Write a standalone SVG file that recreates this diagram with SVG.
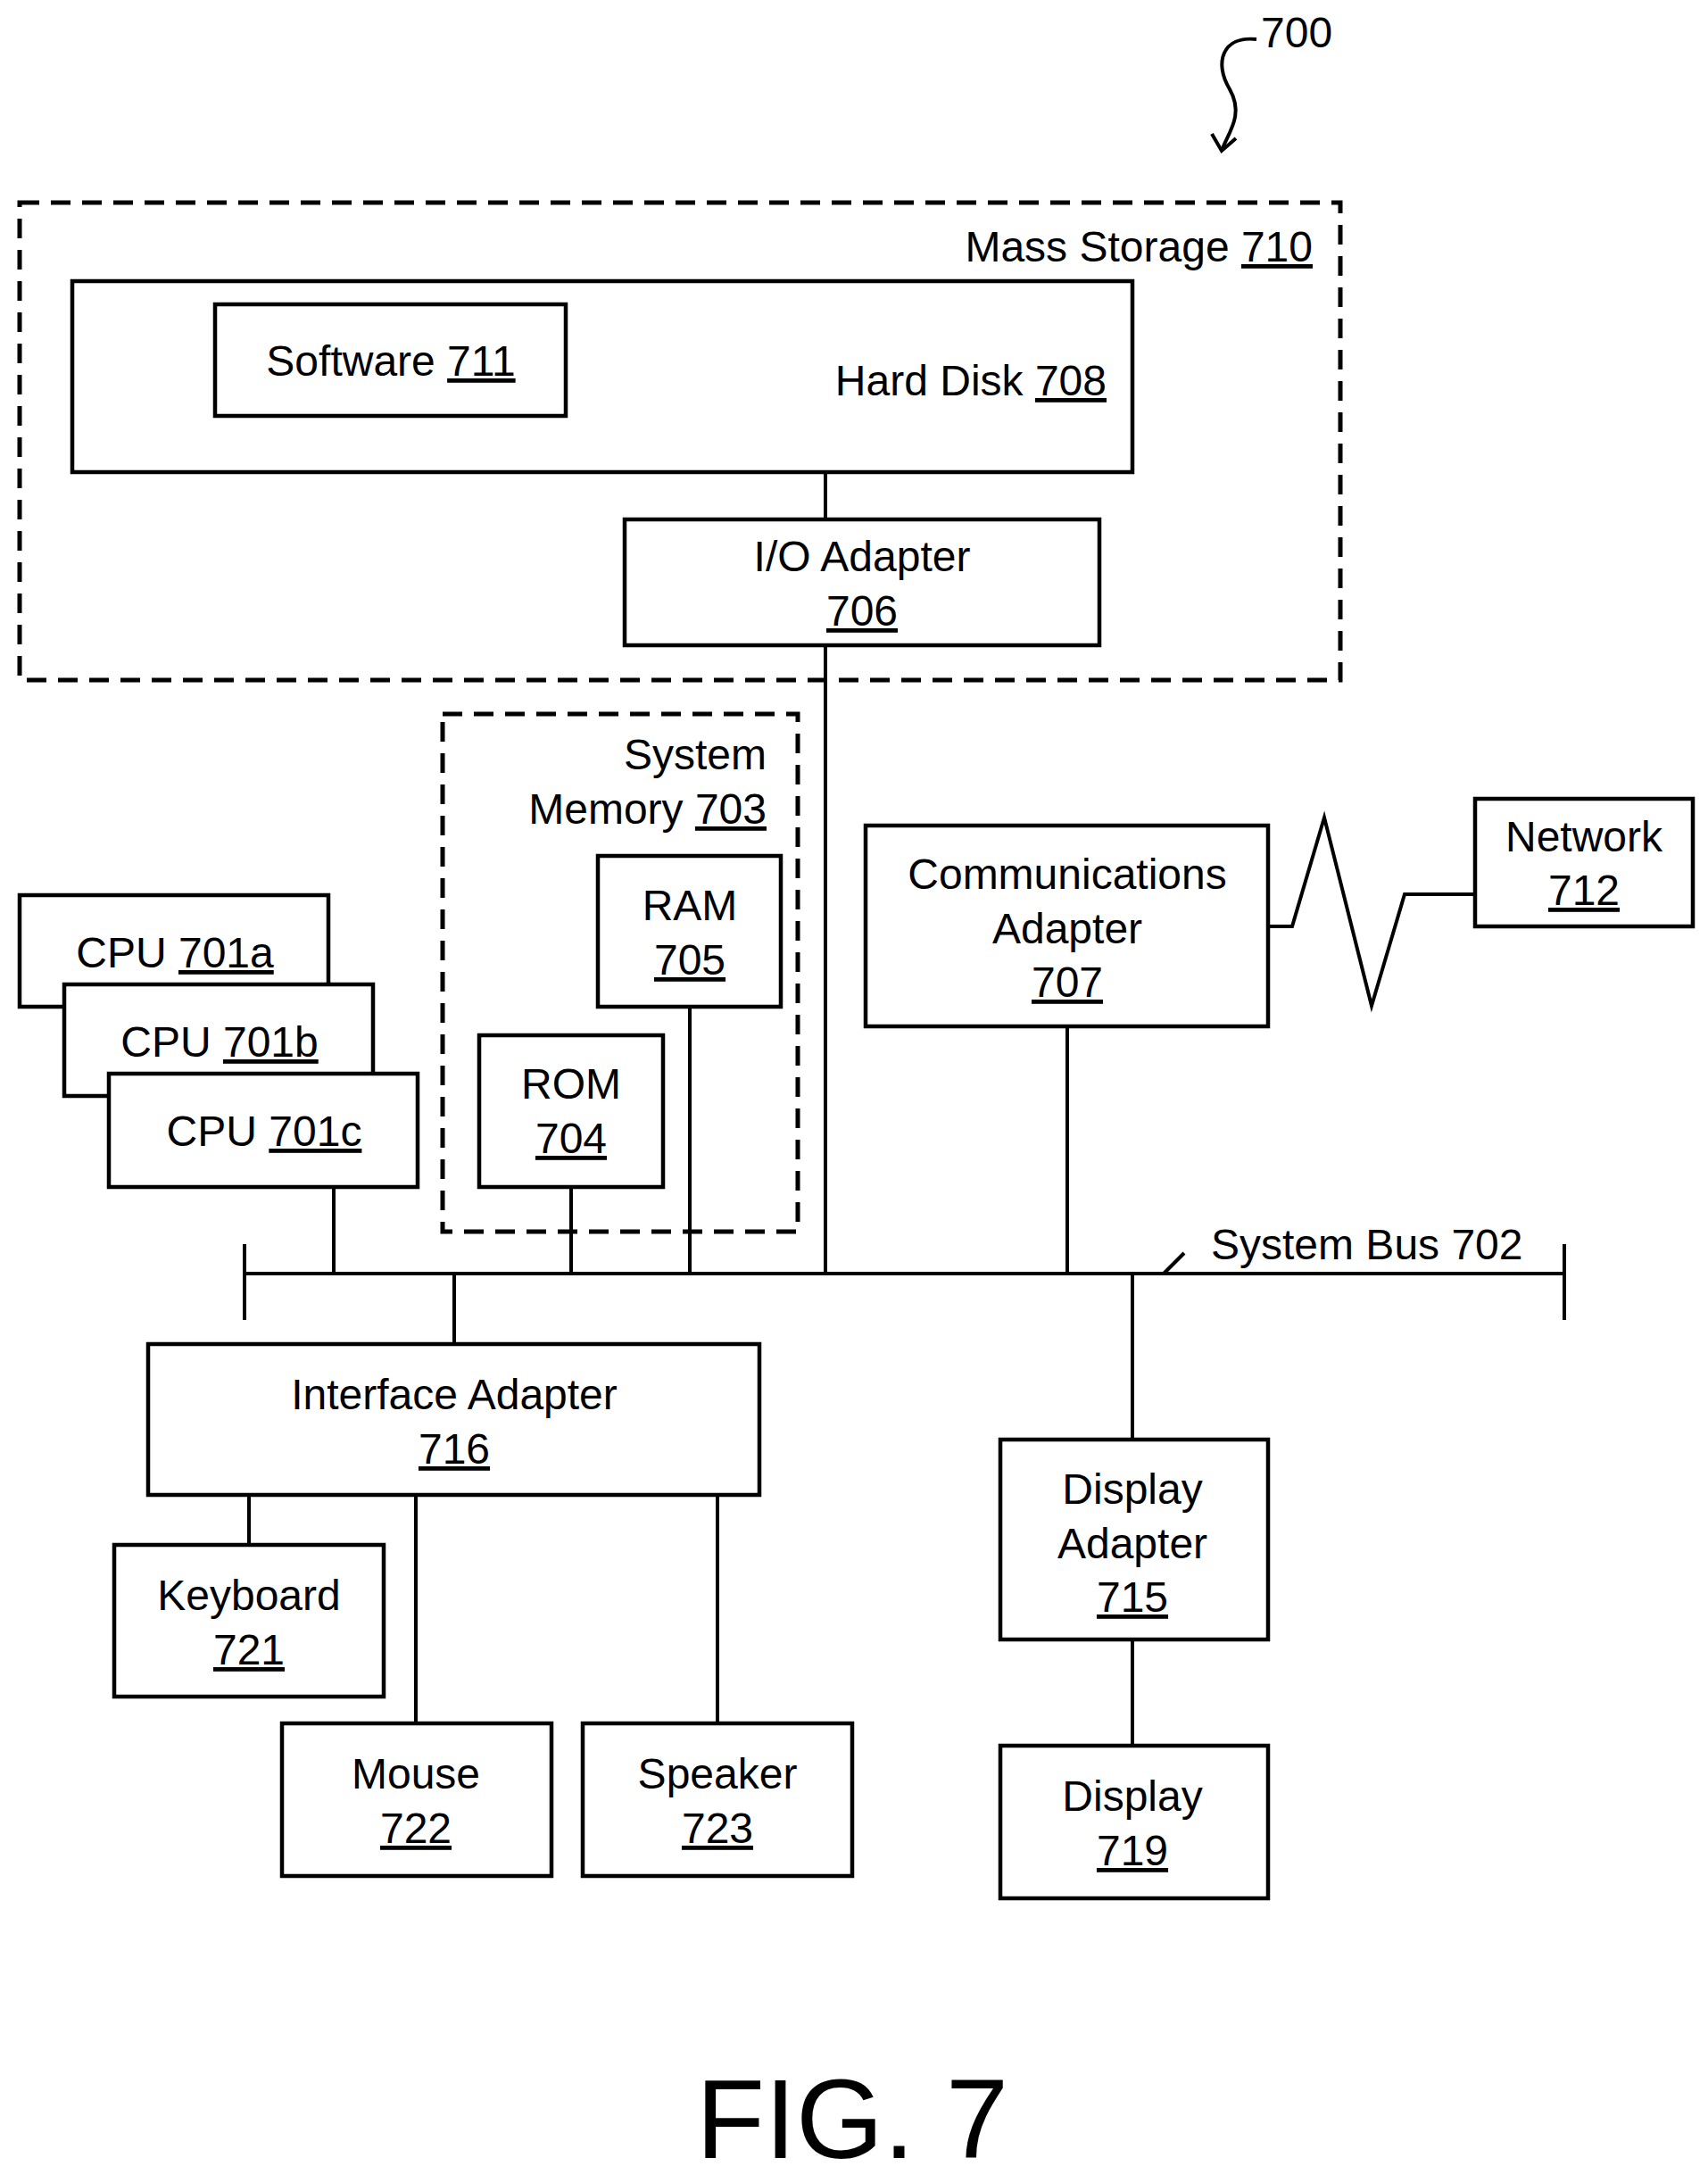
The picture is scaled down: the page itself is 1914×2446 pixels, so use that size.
<svg xmlns="http://www.w3.org/2000/svg" width="1914" height="2446" viewBox="0 0 1914 2446">
<style>
.b{fill:#fff;stroke:#000;stroke-width:4.5}
.d{fill:none;stroke:#000;stroke-width:5;stroke-dasharray:22 13}
.l{fill:none;stroke:#000;stroke-width:4}
text{font-family:"Liberation Sans",Arial,sans-serif;font-size:48px;fill:#000}
.c{text-anchor:middle}.r{text-anchor:end}
.u{text-decoration:underline}
</style>
<rect width="1914" height="2446" fill="#fff"/>
<g id="connectors">
<line class="l" x1="925" y1="529" x2="925" y2="582"/>
<line class="l" x1="925" y1="723" x2="925" y2="1427"/>
<line class="l" x1="773" y1="1128" x2="773" y2="1427"/>
<line class="l" x1="640" y1="1330" x2="640" y2="1427"/>
<line class="l" x1="374" y1="1330" x2="374" y2="1427"/>
<line class="l" x1="1196" y1="1150" x2="1196" y2="1427"/>
<line class="l" x1="274" y1="1427" x2="1753" y2="1427"/>
<line class="l" x1="274" y1="1394" x2="274" y2="1479"/>
<line class="l" x1="1753" y1="1394" x2="1753" y2="1479"/>
<line class="l" x1="1304" y1="1427" x2="1327" y2="1404"/>
<polyline class="l" points="1421,1038 1448,1038 1484,916 1537,1127 1574,1002 1653,1002"/>
<line class="l" x1="509" y1="1427" x2="509" y2="1506"/>
<line class="l" x1="279" y1="1675" x2="279" y2="1731"/>
<line class="l" x1="466" y1="1675" x2="466" y2="1931"/>
<line class="l" x1="804" y1="1675" x2="804" y2="1931"/>
<line class="l" x1="1269" y1="1427" x2="1269" y2="1613"/>
<line class="l" x1="1269" y1="1837" x2="1269" y2="1956"/>
<path class="l" d="M1408,44 C1370,40 1360,70 1378,100 C1395,130 1375,150 1369,169"/>
<polyline class="l" points="1358,150 1369,169 1385,155"/>
</g>
<g id="mass-storage"><rect class="d" x="22" y="227" width="1480" height="535"/><text class="r" x="1471" y="293">Mass Storage <tspan class="u">710</tspan></text></g>
<g id="hard-disk"><rect class="b" x="81" y="315" width="1188" height="214"/><text class="r" x="1240" y="443">Hard Disk <tspan class="u">708</tspan></text></g>
<g id="software"><rect class="b" x="241" y="341" width="393" height="125"/><text class="c" x="438" y="421">Software <tspan class="u">711</tspan></text></g>
<g id="io-adapter"><rect class="b" x="700" y="582" width="532" height="141"/><text class="c" x="966" y="640">I/O Adapter</text><text class="c u" x="966" y="701">706</text></g>
<g id="system-memory"><rect class="d" x="496" y="800" width="398" height="580"/><text class="r" x="859" y="862">System</text><text class="r" x="859" y="923">Memory <tspan class="u">703</tspan></text></g>
<g id="ram"><rect class="b" x="670" y="959" width="205" height="169"/><text class="c" x="773" y="1031">RAM</text><text class="c u" x="773" y="1092">705</text></g>
<g id="rom"><rect class="b" x="537" y="1160" width="206" height="170"/><text class="c" x="640" y="1231">ROM</text><text class="c u" x="640" y="1292">704</text></g>
<g id="cpu-a"><rect class="b" x="22" y="1003" width="346" height="125"/><text class="c" x="196" y="1084">CPU <tspan class="u">701a</tspan></text></g>
<g id="cpu-b"><rect class="b" x="72" y="1103" width="346" height="125"/><text class="c" x="246" y="1184">CPU <tspan class="u">701b</tspan></text></g>
<g id="cpu-c"><rect class="b" x="122" y="1203" width="346" height="127"/><text class="c" x="296" y="1284">CPU <tspan class="u">701c</tspan></text></g>
<g id="comm-adapter"><rect class="b" x="970" y="925" width="451" height="225"/><text class="c" x="1196" y="996">Communications</text><text class="c" x="1196" y="1057">Adapter</text><text class="c u" x="1196" y="1117">707</text></g>
<g id="network"><rect class="b" x="1653" y="895" width="244" height="143"/><text class="c" x="1775" y="954">Network</text><text class="c u" x="1775" y="1014">712</text></g>
<g id="system-bus"><text x="1357" y="1411">System Bus 702</text></g>
<g id="interface-adapter"><rect class="b" x="166" y="1506" width="685" height="169"/><text class="c" x="509" y="1579">Interface Adapter</text><text class="c u" x="509" y="1640">716</text></g>
<g id="keyboard"><rect class="b" x="128" y="1731" width="302" height="170"/><text class="c" x="279" y="1804">Keyboard</text><text class="c u" x="279" y="1865">721</text></g>
<g id="mouse"><rect class="b" x="316" y="1931" width="302" height="171"/><text class="c" x="466" y="2004">Mouse</text><text class="c u" x="466" y="2065">722</text></g>
<g id="speaker"><rect class="b" x="653" y="1931" width="302" height="171"/><text class="c" x="804" y="2004">Speaker</text><text class="c u" x="804" y="2065">723</text></g>
<g id="display-adapter"><rect class="b" x="1121" y="1613" width="300" height="224"/><text class="c" x="1269" y="1685">Display</text><text class="c" x="1269" y="1746">Adapter</text><text class="c u" x="1269" y="1806">715</text></g>
<g id="display"><rect class="b" x="1121" y="1956" width="300" height="171"/><text class="c" x="1269" y="2029">Display</text><text class="c u" x="1269" y="2090">719</text></g>
<g id="label-700"><text x="1413" y="53">700</text></g>
<g id="fig"><text class="c" x="955" y="2418" style="font-size:126px">FIG. 7</text></g>
</svg>
